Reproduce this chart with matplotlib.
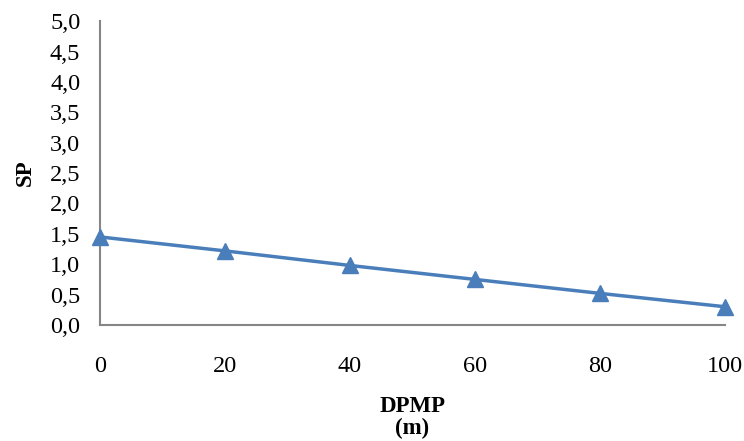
import matplotlib
matplotlib.use("Agg")
import matplotlib.pyplot as plt
from matplotlib.ticker import FuncFormatter, MultipleLocator

dpmp = [0, 20, 40, 60, 80, 100]
sp = [1.45, 1.22, 0.98, 0.75, 0.52, 0.30]

plt.rcParams['font.family'] = ['Liberation Serif', 'DejaVu Serif']

fig = plt.figure(figsize=(7.44, 4.41), dpi=100)
ax = fig.add_axes([0.134, 0.263, 0.841, 0.689])

ax.plot(dpmp, sp, color='#4A7EBB', linewidth=2.5, marker='^', markersize=11,
        markerfacecolor='#4A7EBB', markeredgecolor='#4A7EBB', clip_on=False, zorder=3)

ax.set_xlim(0, 100)
ax.set_ylim(0, 5.0)
ax.yaxis.set_major_locator(MultipleLocator(0.5))
ax.xaxis.set_major_locator(MultipleLocator(20))
ax.yaxis.set_major_formatter(FuncFormatter(lambda v, p: f"{v:.1f}".replace('.', ',')))

for s in ['top', 'right']:
    ax.spines[s].set_visible(False)
for s in ['left', 'bottom']:
    ax.spines[s].set_color('#868686')
    ax.spines[s].set_linewidth(1.5)

ax.tick_params(axis='both', length=0, labelsize=17.5, colors='black')
ax.tick_params(axis='x', pad=22)
ax.tick_params(axis='y', pad=14)

ax.set_xlabel('DPMP\n(m)', fontsize=16.5, fontweight='bold', labelpad=14, linespacing=1.05)
ax.set_ylabel('SP', fontsize=16.5, fontweight='bold', labelpad=10)

fig.savefig('out.png', dpi=100)
